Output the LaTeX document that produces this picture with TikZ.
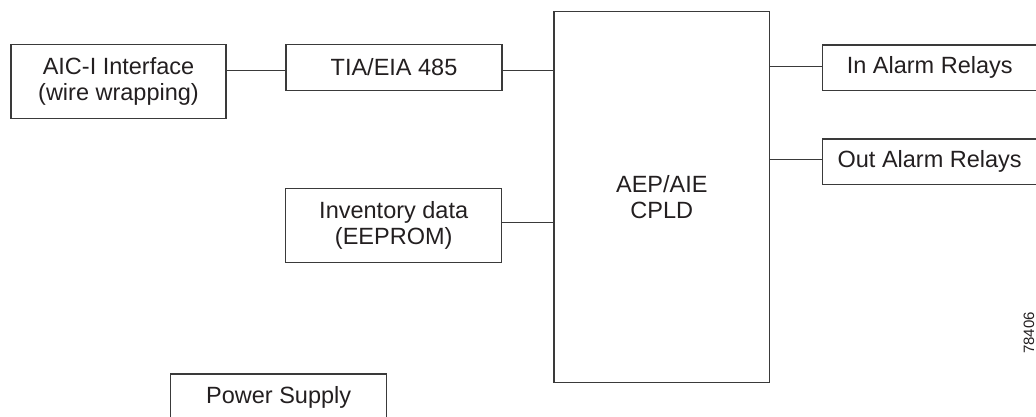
\documentclass[tikz,border=0pt]{standalone}
\usepackage{fontspec}
\setmainfont{Liberation Sans}
\definecolor{linec}{HTML}{3A3A3A}
\definecolor{textc}{HTML}{231F20}
\begin{document}
\begin{tikzpicture}[x=1pt,y=-1pt,
  blk/.style={draw=linec, line width=1.2pt, rectangle, inner sep=0pt, align=center,
    text=textc, font=\fontsize{23.5}{26}\selectfont},
  wire/.style={draw=linec, line width=1.1pt}]
\useasboundingbox (0,0) rectangle (1036,417);
\node[blk, minimum width=215pt, minimum height=74pt] (aic) at (118.5,81.3) {AIC-I Interface\\(wire wrapping)};
\node[blk, minimum width=216pt, minimum height=46.5pt] (tia) at (394,67.5) {TIA/EIA 485};
\node[blk, minimum width=215.5pt, minimum height=371pt] (cpld) at (661.8,197.2) {AEP/AIE\\CPLD};
\node[blk, minimum width=215pt, minimum height=45.7pt] (inr) at (929.7,67.9) {In Alarm Relays};
\node[blk, minimum width=215pt, minimum height=45.3pt] (outr) at (929.7,161.7) {Out Alarm Relays};
\node[blk, minimum width=216pt, minimum height=74pt] (inv) at (393.7,225.3) {Inventory data\\(EEPROM)};
\node[blk, minimum width=216pt, minimum height=47pt] (pwr) at (278.7,397.5) {Power Supply};
\node[rotate=90, text=textc, font=\fontsize{15}{17}\selectfont, inner sep=0pt] (fig) at (1029,333) {78406};
\draw[wire] ([yshift=10.6pt]aic.east) -- ([yshift=10.6pt]aic.east -| tia.west);
\draw[wire] ([yshift=-2.8pt]tia.east) -- ([yshift=-2.8pt]tia.east -| cpld.west);
\draw[wire] ([yshift=1.2pt]inr.west) -- ([yshift=1.2pt]inr.west -| cpld.east);
\draw[wire] ([yshift=2.4pt]outr.west) -- ([yshift=2.4pt]outr.west -| cpld.east);
\draw[wire] ([yshift=3pt]inv.east) -- ([yshift=3pt]inv.east -| cpld.west);
\end{tikzpicture}
\end{document}
